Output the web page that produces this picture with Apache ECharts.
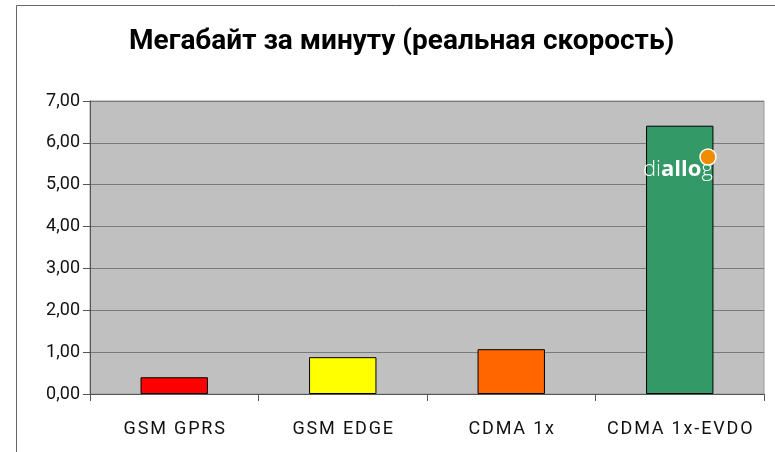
<!DOCTYPE html>
<html><head><meta charset="utf-8">
<script src="https://cdn.jsdelivr.net/npm/echarts@6/dist/echarts.min.js"></script>
<style>html,body{margin:0;padding:0;background:#fff}#c{width:775px;height:452px}</style>
</head><body><div id="c"></div>
<script>
const categories = ["GSM GPRS", "GSM EDGE", "CDMA 1x", "CDMA 1x-EVDO"];
const values = [0.40, 0.88, 1.07, 6.41];
const barColors = ["#FF0000", "#FFFF00", "#FF6600", "#339966"];
const yTicks = [0, 1, 2, 3, 4, 5, 6, 7];

const chart = echarts.init(document.getElementById('c'), null, {renderer: 'canvas'});
chart.setOption({
  backgroundColor: '#ffffff',
  animation: false,
  title: {
    text: 'Мегабайт за минуту (реальная скорость)',
    left: 124, top: 23,
    textStyle: {fontFamily: 'Roboto', fontWeight: 'bold', fontSize: 28, color: '#000'}
  },
  graphic: [
    {type: 'rect', shape: {x: 16.5, y: 5.5, width: 780, height: 460}, style: {fill: 'none', stroke: '#666', lineWidth: 1}, z: 0},
    {type: 'text', left: 643, top: 159, z: 100, style: {
      text: '{t|di}{b|allo}{t|g}', fill: '#ffffff',
      rich: {t: {fontFamily: 'Open Sans', fontSize: 22, fontWeight: 300, fill: '#ffffff'},
             b: {fontFamily: 'Open Sans', fontSize: 22, fontWeight: 'bold', fill: '#ffffff'}}}},
    {type: 'circle', shape: {cx: 708, cy: 157, r: 8}, style: {fill: '#F08C00', stroke: '#ffffff', lineWidth: 1.5}, z: 100}
  ],
  grid: {left: 90, right: 11, top: 101, bottom: 58, show: true, backgroundColor: '#C0C0C0', borderColor: '#9a9a9a', borderWidth: 1},
  xAxis: {
    type: 'category', data: categories,
    axisLine: {lineStyle: {color: '#555', width: 1}},
    axisTick: {show: true, length: 7, lineStyle: {color: '#555'}},
    axisLabel: {interval: 0, fontFamily: 'Roboto', fontSize: 18, color: '#111', margin: 26,
      formatter: v => v.split('').join('\u200A')}
  },
  yAxis: {
    type: 'value', min: 0, max: 7, interval: 1,
    axisLine: {show: true, lineStyle: {color: '#555', width: 1}},
    axisTick: {show: true, length: 7, lineStyle: {color: '#555'}},
    splitLine: {lineStyle: {color: '#7a7a7a', width: 1}},
    axisLabel: {fontFamily: 'Roboto', fontSize: 18, color: '#111', margin: 10,
      formatter: v => v.toFixed(2).replace('.', ',')}
  },
  series: [{
    type: 'bar', barWidth: '40%',
    data: values.map((v, i) => ({value: v, itemStyle: {color: barColors[i], borderColor: '#000', borderWidth: 1}}))
  }]
});
</script></body></html>
